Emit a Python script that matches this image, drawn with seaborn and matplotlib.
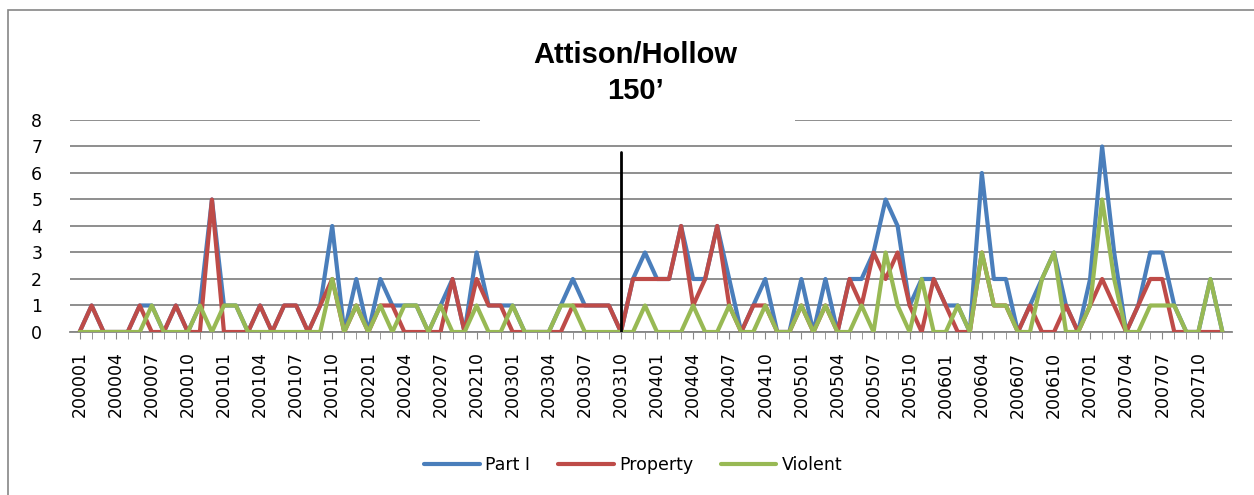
import pandas as pd
import matplotlib
matplotlib.use("Agg")
import matplotlib.pyplot as plt
from matplotlib.patches import Rectangle
import seaborn as sns

# monthly periods 200001 .. 200712
months = [f"{y}{m:02d}" for y in range(2000, 2008) for m in range(1, 13)]

part_i = [0, 1, 0, 0, 0, 1, 1, 0, 1, 0, 1, 5,
          1, 1, 0, 1, 0, 1, 1, 0, 1, 4, 0, 2,
          0, 2, 1, 1, 1, 0, 1, 2, 0, 3, 1, 1,
          1, 0, 0, 0, 1, 2, 1, 1, 1, 0, 2, 3,
          2, 2, 4, 2, 2, 4, 2, 0, 1, 2, 0, 0,
          2, 0, 2, 0, 2, 2, 3, 5, 4, 1, 2, 2,
          1, 1, 0, 6, 2, 2, 0, 1, 2, 3, 1, 0,
          2, 7, 3, 0, 1, 3, 3, 1, 0, 0, 2, 0]

property_ = [0, 1, 0, 0, 0, 1, 0, 0, 1, 0, 0, 5,
             0, 0, 0, 1, 0, 1, 1, 0, 1, 2, 0, 1,
             0, 1, 1, 0, 0, 0, 0, 2, 0, 2, 1, 1,
             0, 0, 0, 0, 0, 1, 1, 1, 1, 0, 2, 2,
             2, 2, 4, 1, 2, 4, 1, 0, 1, 1, 0, 0,
             1, 0, 1, 0, 2, 1, 3, 2, 3, 1, 0, 2,
             1, 0, 0, 3, 1, 1, 0, 1, 0, 0, 1, 0,
             1, 2, 1, 0, 1, 2, 2, 0, 0, 0, 0, 0]

violent = [0, 0, 0, 0, 0, 0, 1, 0, 0, 0, 1, 0,
           1, 1, 0, 0, 0, 0, 0, 0, 0, 2, 0, 1,
           0, 1, 0, 1, 1, 0, 1, 0, 0, 1, 0, 0,
           1, 0, 0, 0, 1, 1, 0, 0, 0, 0, 0, 1,
           0, 0, 0, 1, 0, 0, 1, 0, 0, 1, 0, 0,
           1, 0, 1, 0, 0, 1, 0, 3, 1, 0, 2, 0,
           0, 1, 0, 3, 1, 1, 0, 0, 2, 3, 0, 0,
           1, 5, 2, 0, 0, 1, 1, 1, 0, 0, 2, 0]

series_names = ["Part I", "Property", "Violent"]
series_colors = ["#4A7EBB", "#BE4B48", "#98B954"]
marker_month = "200310"

df = pd.DataFrame({"month": months, "Part I": part_i,
                   "Property": property_, "Violent": violent})
df["pos"] = range(len(df))
long_df = df.melt(id_vars=["month", "pos"], value_vars=series_names,
                  var_name="series", value_name="count")

sns.set_style("white")
plt.rcParams["font.family"] = ["DejaVu Sans"]
plt.rcParams["text.color"] = "black"
plt.rcParams["xtick.labelcolor"] = "black"
plt.rcParams["ytick.labelcolor"] = "black"

fig = plt.figure(figsize=(12.54, 4.95), dpi=100)
ax = fig.add_axes([0.0558, 0.3293, 0.9267, 0.4283])

sns.lineplot(data=long_df, x="pos", y="count", hue="series",
             palette=dict(zip(series_names, series_colors)),
             linewidth=3, legend=False, ax=ax, zorder=3)

# grid
ax.set_ylim(0, 8)
ax.set_xlim(-0.8, len(months) - 0.2)
ax.set_yticks(range(0, 9))
ax.yaxis.grid(True, color="#868686", linewidth=1.3)
ax.set_axisbelow(True)
for side in ["left", "right", "top"]:
    ax.spines[side].set_visible(False)
ax.spines["bottom"].set_color("#868686")
ax.spines["bottom"].set_linewidth(1.3)

ax.set_xticks(df["pos"][::3])
ax.set_xticklabels(df["month"][::3], rotation=90, fontsize=12.5)
ax.set_xticks(df["pos"], minor=True)
ax.tick_params(axis="x", which="both", direction="out", length=5,
               color="#868686", pad=9, bottom=True)
ax.tick_params(axis="y", length=0, labelsize=12.5, pad=20)
ax.set_xlabel("")
ax.set_ylabel("")

# the break marker
mpos = months.index(marker_month)
ax.plot([mpos, mpos], [0, 6.8], color="black", linewidth=2, zorder=4)

# title hides the top gridline behind it
ax.add_patch(Rectangle((33.3, 7.7), 26.2, 0.6, facecolor="white",
                       edgecolor="none", zorder=2, clip_on=False))
fig.text(0.5064, 1 - 55 / 495, "Attison/Hollow", ha="center", va="center",
         fontsize=21, fontweight="bold", family="Liberation Sans", color="black")
fig.text(0.5064, 1 - 91 / 495, "150\u2019", ha="center", va="center",
         fontsize=21, fontweight="bold", family="Liberation Sans", color="black")

handles = ax.get_lines()[:3]
fig.legend(handles, series_names, loc="center", bbox_to_anchor=(0.505, 0.06),
           ncol=3, frameon=False, fontsize=12.5, handlelength=3.2,
           columnspacing=1.6, handletextpad=0.3)

# outer chart border
fig.add_artist(Rectangle((8 / 1254, -0.02), 1.0, 1 - 10 / 495 + 0.02,
                         transform=fig.transFigure, fill=False,
                         edgecolor="#868686", linewidth=1.2))

fig.savefig("out.png", dpi=100)
